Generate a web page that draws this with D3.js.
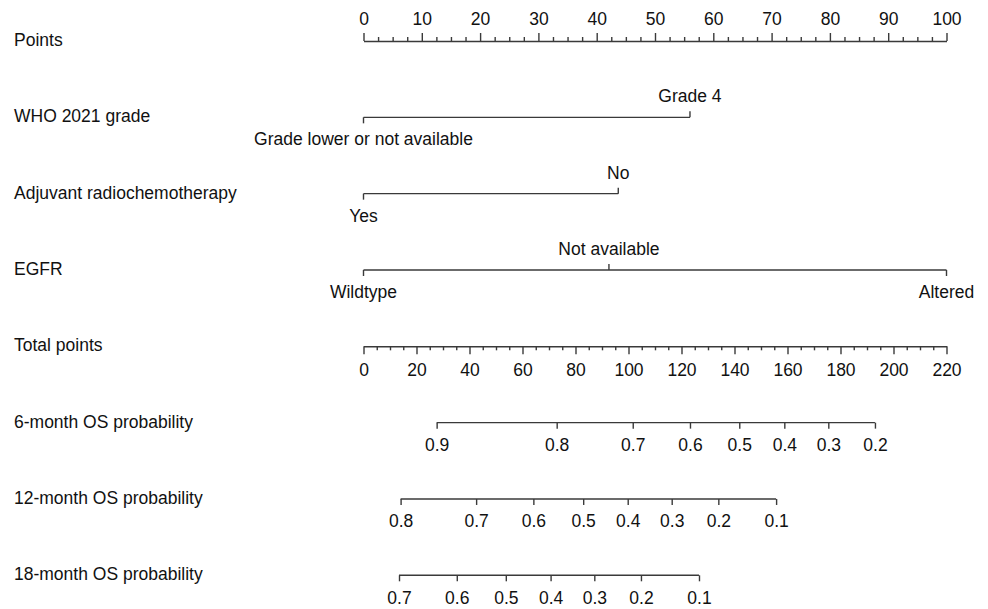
<!DOCTYPE html>
<html>
<head>
<meta charset="utf-8">
<script src="https://cdn.jsdelivr.net/npm/d3@7"></script>
<style>
  body { margin: 0; background: #fff; }
  text { font-family: Arial, "Liberation Sans", sans-serif; font-size: 17.5px; fill: #111; }
</style>
</head>
<body>
<svg id="chart" width="988" height="609"></svg>
<script>
// Row titles, top to bottom
const rowLabels = [
  "Points", "WHO 2021 grade", "Adjuvant radiochemotherapy", "EGFR",
  "Total points", "6-month OS probability", "12-month OS probability", "18-month OS probability"
];

// Points and total-points scales
const pointsTicks = d3.range(0, 101, 10);
const pointsMinor = d3.range(0, 100.01, 2.5).filter(v => v % 10 !== 0);
const totalTicks = d3.range(0, 221, 20);
const totalMinor = d3.range(0, 220.01, 5).filter(v => v % 20 !== 0);

// Predictors: level names, points for each level, and label side
const gradeLevels = ["Grade lower or not available", "Grade 4"];
const gradePoints = [0, 56];
const gradeSides = ["below", "above"];

const radioLevels = ["Yes", "No"];
const radioPoints = [0, 43.7];
const radioSides = ["below", "above"];

const egfrLevels = ["Wildtype", "Not available", "Altered"];
const egfrPoints = [0, 42.1, 100];
const egfrSides = ["below", "above", "below"];

// Survival probabilities and the total points where they fall
const os6Labels = ["0.9", "0.8", "0.7", "0.6", "0.5", "0.4", "0.3", "0.2"];
const os6Total = [27.6, 72.9, 101.6, 123.2, 141.8, 158.8, 175.4, 193.0];

const os12Labels = ["0.8", "0.7", "0.6", "0.5", "0.4", "0.3", "0.2", "0.1"];
const os12Total = [14.0, 42.5, 64.1, 82.9, 99.7, 116.3, 133.9, 155.7];

const os18Labels = ["0.7", "0.6", "0.5", "0.4", "0.3", "0.2", "0.1"];
const os18Total = [13.4, 35.2, 53.7, 70.6, 87.1, 104.7, 126.6];

const svg = d3.select("#chart");
const stroke = "#3a3a3a";
const x0 = 363.5, x1 = 946.5;

const xPoints = d3.scaleLinear().domain([0, 100]).range([x0, x1]);
const xTotal = d3.scaleLinear().domain([0, 220]).range([x0, x1]);
const rowY = d3.scaleLinear().domain([0, rowLabels.length - 1]).range([41, 575.3]);

// Row titles
svg.append("g").selectAll("text")
  .data(rowLabels)
  .join("text")
  .attr("x", 14)
  .attr("y", (d, i) => rowY(i) + 5)
  .text(d => d);

function styleAxis(g) {
  g.selectAll("path, line").attr("stroke", stroke).attr("stroke-width", 1.4);
  g.selectAll("text").attr("fill", "#111");
  g.attr("font-family", null).attr("font-size", null);
}

// Points axis (ticks upward)
const gPts = svg.append("g").attr("transform", `translate(0,${rowY(0)})`);
gPts.call(d3.axisTop(xPoints).tickValues(pointsTicks).tickSize(8).tickSizeOuter(0).tickPadding(8).tickFormat(d3.format("d")));
gPts.append("g").call(d3.axisTop(xPoints).tickValues(pointsMinor).tickSize(4).tickFormat(""))
  .call(g => g.select(".domain").remove());
styleAxis(gPts);

// Categorical predictor rows
function predictorRow(row, levels, pts, sides) {
  const y = rowY(row);
  const g = svg.append("g").attr("transform", `translate(0,${y})`);
  const ext = d3.extent(pts);
  g.append("line")
    .attr("x1", xPoints(ext[0])).attr("x2", xPoints(ext[1]))
    .attr("stroke", stroke).attr("stroke-width", 1.4);
  const items = levels.map((l, i) => ({ label: l, p: pts[i], side: sides[i] }));
  g.selectAll("line.tick").data(items).join("line")
    .attr("class", "tick")
    .attr("x1", d => xPoints(d.p)).attr("x2", d => xPoints(d.p))
    .attr("y1", 0).attr("y2", d => d.side === "above" ? -6 : 6)
    .attr("stroke", stroke).attr("stroke-width", 1.4);
  g.selectAll("text").data(items).join("text")
    .attr("x", d => xPoints(d.p))
    .attr("y", d => d.side === "above" ? -15 : 28)
    .attr("text-anchor", "middle")
    .text(d => d.label);
}
predictorRow(1, gradeLevels, gradePoints, gradeSides);
predictorRow(2, radioLevels, radioPoints, radioSides);
predictorRow(3, egfrLevels, egfrPoints, egfrSides);

// Total points axis (ticks downward)
const gTot = svg.append("g").attr("transform", `translate(0,${rowY(4)})`);
gTot.call(d3.axisBottom(xTotal).tickValues(totalTicks).tickSize(8).tickSizeOuter(0).tickPadding(9).tickFormat(d3.format("d")));
gTot.append("g").call(d3.axisBottom(xTotal).tickValues(totalMinor).tickSize(4).tickFormat(""))
  .call(g => g.select(".domain").remove());
styleAxis(gTot);

// Survival probability axes
function probRow(row, labels, totals) {
  const g = svg.append("g").attr("transform", `translate(0,${rowY(row)})`);
  g.call(d3.axisBottom(xTotal).tickValues(totals).tickSize(6).tickPadding(10)
    .tickFormat((d, i) => labels[i]));
  g.select(".domain").remove();
  const ext = d3.extent(totals);
  g.append("line")
    .attr("x1", xTotal(ext[0])).attr("x2", xTotal(ext[1]))
    .attr("stroke", stroke);
  styleAxis(g);
}
probRow(5, os6Labels, os6Total);
probRow(6, os12Labels, os12Total);
probRow(7, os18Labels, os18Total);
</script>
</body>
</html>
